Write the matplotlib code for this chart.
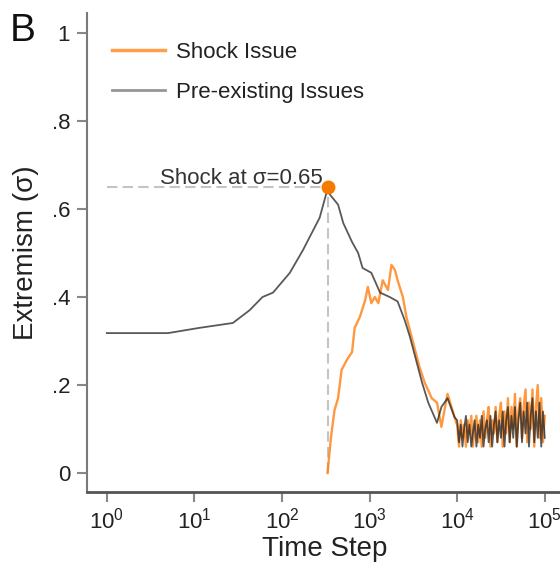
import matplotlib
matplotlib.use("Agg")
import matplotlib.pyplot as plt
from matplotlib.lines import Line2D

plt.rcParams['font.family'] = ['Liberation Sans', 'DejaVu Sans']
plt.rcParams['mathtext.fontset'] = 'custom'
plt.rcParams['mathtext.rm'] = 'Liberation Sans'

# --- data ---
shock_time = 331
shock_level = 0.65

# pre-existing issues (grey/black line)
pre_t = [1, 5, 11.5, 27.5, 42.7, 60, 79, 123, 174, 269, 331,
         355, 437, 501, 631, 741, 832, 1047, 1318, 1698, 2089, 2512, 2884,
         3467, 3981, 4677, 5888, 6607, 7762, 9333]
pre_y = [0.318, 0.318, 0.33, 0.341, 0.37, 0.40, 0.41, 0.455, 0.507, 0.58, 0.645,
         0.632, 0.61, 0.568, 0.525, 0.50, 0.466, 0.455, 0.41, 0.40, 0.39, 0.348, 0.31,
         0.25, 0.205, 0.16, 0.114, 0.15, 0.17, 0.127]

# shock issue (orange line)
shock_t = [331, 363, 398, 437, 479, 550, 631, 676, 776, 891, 955, 1047, 1148,
           1259, 1413, 1622, 1778, 1950, 2089, 2399, 2630, 3090, 3715, 4266,
           5129, 5888, 6607, 7762, 9772]
shock_y = [0.0, 0.082, 0.143, 0.17, 0.234, 0.257, 0.275, 0.33, 0.355, 0.393,
           0.423, 0.386, 0.40, 0.386, 0.438, 0.416, 0.473, 0.461, 0.438, 0.40,
           0.355, 0.302, 0.241, 0.205, 0.17, 0.16, 0.105, 0.18, 0.114]

# noisy tail, 10^4 .. 10^5
tail_t = [10000, 10500, 11000, 11500, 12000, 12600, 13200, 13800, 14500, 15100,
          15800, 16600, 17400, 18200, 19100, 20000, 20900, 21900, 22900, 24000,
          25100, 26300, 27500, 28800, 30200, 31600, 33100, 34700, 36300, 38000,
          39800, 41700, 43700, 45700, 47900, 50100, 52500, 55000, 57500, 60300,
          63100, 66100, 69200, 72400, 75900, 79400, 83200, 87100, 91200, 95500,
          100000]
tail_pre = [0.12, 0.07, 0.11, 0.06, 0.10, 0.13, 0.07, 0.11, 0.06, 0.09,
            0.12, 0.06, 0.11, 0.08, 0.13, 0.06, 0.10, 0.12, 0.07, 0.13,
            0.06, 0.11, 0.14, 0.07, 0.12, 0.08, 0.14, 0.06, 0.12, 0.15,
            0.07, 0.13, 0.08, 0.15, 0.06, 0.12, 0.16, 0.07, 0.14, 0.09,
            0.16, 0.06, 0.13, 0.17, 0.07, 0.14, 0.08, 0.16, 0.06, 0.14,
            0.08]
tail_shock = [0.11, 0.06, 0.12, 0.08, 0.11, 0.06, 0.12, 0.09, 0.13, 0.06,
              0.10, 0.13, 0.07, 0.12, 0.06, 0.14, 0.08, 0.12, 0.15, 0.06,
              0.12, 0.09, 0.15, 0.07, 0.13, 0.16, 0.06, 0.14, 0.09, 0.17,
              0.07, 0.15, 0.10, 0.18, 0.06, 0.14, 0.17, 0.08, 0.15, 0.19,
              0.07, 0.16, 0.10, 0.19, 0.06, 0.15, 0.20, 0.08, 0.17, 0.07,
              0.13]

ytick_vals = [0, 0.2, 0.4, 0.6, 0.8, 1.0]
ytick_labels = ['0', '.2', '.4', '.6', '.8', '1']
xtick_vals = [1, 10, 100, 1000, 10000, 100000]

orange = '#ff7f0e'
grey = '#6a6a6a'

fig = plt.figure(figsize=(5.6, 5.62), dpi=100)
ax = fig.add_axes([0.155, 0.1246, 0.849, 0.852])

# shock guide lines
ax.plot([1, shock_time], [shock_level, shock_level], color='#c4c4c4', lw=1.5,
        dashes=(5, 2.5), zorder=1)
ax.plot([shock_time, shock_time], [0, shock_level], color='#c4c4c4', lw=1.5,
        dashes=(5, 2.5), zorder=1)

ax.plot(shock_t + tail_t, shock_y + tail_shock, color=orange, lw=1.7, alpha=0.8, zorder=2)
ax.plot(pre_t + tail_t, pre_y + tail_pre, color='#222222', lw=1.3, alpha=0.75, zorder=3)
ax.plot([shock_time], [shock_level], 'o', color='#f57a00', ms=9, zorder=4)

ax.text(292, 0.657, 'Shock at σ=0.65', ha='right', va='baseline',
        fontsize=16, color='#333333')

ax.set_xscale('log')
ax.set_xlim(10 ** (-20 / 87.6), 10 ** (455.5 / 87.6))
ax.set_ylim(-0.043, 1.045)
ax.set_xticks(xtick_vals)
ax.minorticks_off()
ax.set_yticks(ytick_vals)
ax.set_yticklabels(ytick_labels)

for s in ['top', 'right']:
    ax.spines[s].set_visible(False)
ax.spines['left'].set_color('#7a7a7a')
ax.spines['bottom'].set_color('#555555')
ax.spines['left'].set_linewidth(1.5)
ax.spines['bottom'].set_linewidth(2)
ax.tick_params(axis='both', colors='#888888', labelcolor='#222222',
               labelsize=16, length=7, width=1.5)
ax.tick_params(axis='x', pad=4)
ax.tick_params(axis='y', pad=5)

ax.set_xlabel('Time Step', fontsize=20, color='#222222')
ax.set_ylabel('Extremism (σ)', fontsize=20, color='#222222')
ax.xaxis.set_label_coords(0.5, -0.092)
ax.yaxis.set_label_coords(-0.1, 0.5)

handles = [Line2D([], [], color=orange, lw=2.5, alpha=0.75),
           Line2D([], [], color=grey, lw=2.0, alpha=0.7)]
ax.legend(handles, ['Shock Issue', 'Pre-existing Issues'], loc='upper left',
          bbox_to_anchor=(0.053, 0.94), frameon=False, fontsize=16,
          handlelength=2.4, handletextpad=0.5, labelspacing=0.85,
          borderpad=0, borderaxespad=0, labelcolor='#222222')

fig.text(0.018, 0.977, 'B', fontsize=28, va='top', ha='left', color='#111111')

plt.savefig('out.png', dpi=100)
